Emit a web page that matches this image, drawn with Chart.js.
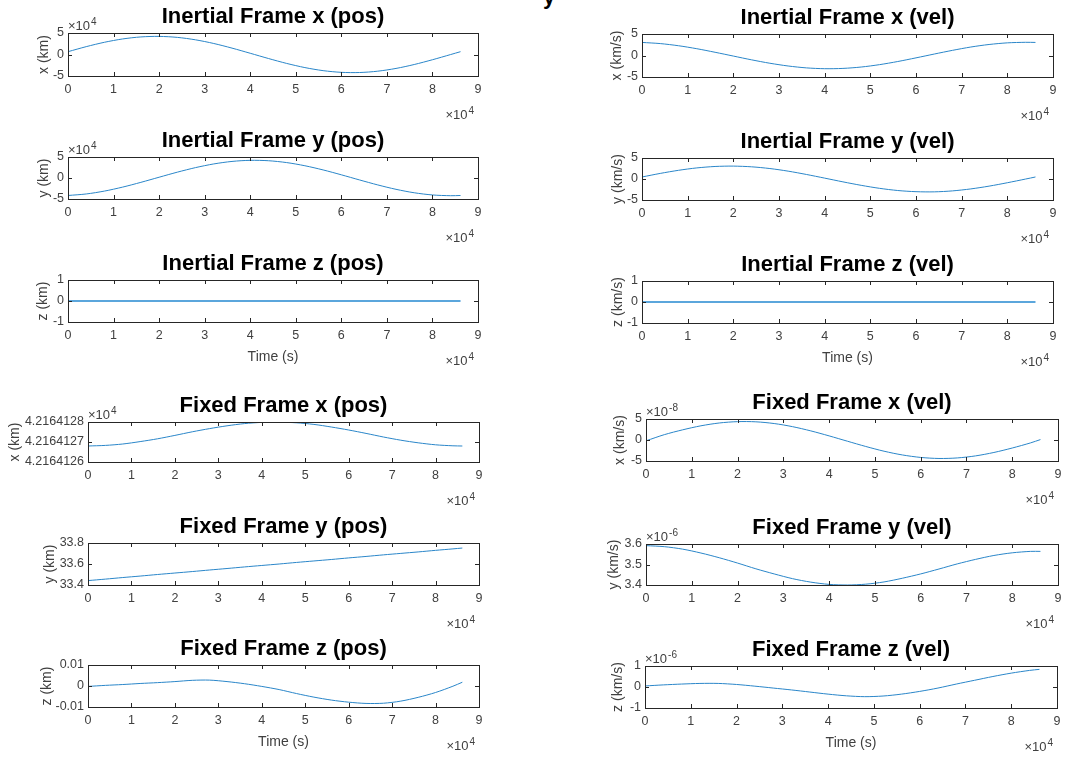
<!DOCTYPE html>
<html>
<head>
<meta charset="utf-8">
<script src="https://cdn.jsdelivr.net/npm/chart.js@4.4.0/dist/chart.umd.min.js"></script>
<style>
  body { margin: 0; background: #fff; width: 1078px; height: 757px; overflow: hidden; position: relative; }
  canvas { position: absolute; }
  #cut { position: absolute; left: 543px; top: -14px; font: bold 22px "Liberation Sans", Arial, sans-serif; color: #000; line-height: 22px; }
</style>
</head>
<body>
<div id="cut">y</div>
<script>
// time samples (s)
const timeS = [0, 4000, 8000, 12000, 16000, 20000, 24000, 28000, 32000, 36000, 40000, 44000,
               48000, 52000, 56000, 60000, 64000, 68000, 72000, 76000, 80000, 84000, 86164];

// inertial frame position (km)
const inertialXPos = [6560, 18260, 28420, 36170, 40870, 42120, 39810, 34140, 25590, 14860, 2890, -9330,
                      -20760, -30430, -37540, -41470, -41910, -38800, -32410, -23290, -12200, -80, 6560];
const inertialYPos = [-41650, -38010, -31150, -21660, -10350, 1850, 13880, 24740, 33500, 39460, 42070, 41120,
                      36700, 29180, 19200, 7600, -4650, -16510, -26960, -35150, -40360, -42160, -41650];
const inertialZPos = [0, 0, 0, 0, 0, 0, 0, 0, 0, 0, 0, 0, 0, 0, 0, 0, 0, 0, 0, 0, 0, 0, 0];

// inertial frame velocity (km/s)
const inertialXVel = [3.04, 2.77, 2.27, 1.58, 0.75, -0.13, -1.01, -1.80, -2.44, -2.88, -3.07, -3.00,
                      -2.68, -2.13, -1.40, -0.55, 0.34, 1.20, 1.97, 2.56, 2.94, 3.07, 3.04];
const inertialYVel = [0.48, 1.33, 2.07, 2.64, 2.98, 3.07, 2.90, 2.49, 1.87, 1.08, 0.21, -0.68,
                      -1.51, -2.22, -2.74, -3.02, -3.06, -2.83, -2.36, -1.70, -0.89, -0.01, 0.48];
const inertialZVel = [0, 0, 0, 0, 0, 0, 0, 0, 0, 0, 0, 0, 0, 0, 0, 0, 0, 0, 0, 0, 0, 0, 0];

// fixed frame position (km)
const fixedXPos = [42164.12680, 42164.12683, 42164.12690, 42164.12702, 42164.12716, 42164.12733, 42164.12751,
                   42164.12767, 42164.12781, 42164.12792, 42164.12798, 42164.12799, 42164.12796, 42164.12788,
                   42164.12775, 42164.12760, 42164.12743, 42164.12725, 42164.12709, 42164.12696, 42164.12686,
                   42164.12681, 42164.12680];
const fixedYPos = [33.442, 33.456, 33.471, 33.485, 33.500, 33.514, 33.528, 33.543, 33.557, 33.572, 33.586, 33.600,
                   33.615, 33.629, 33.643, 33.658, 33.672, 33.687, 33.701, 33.715, 33.730, 33.744, 33.752];
const fixedZPos = [-0.0002, 0.0003, 0.0007, 0.0012, 0.0016, 0.0021, 0.0027, 0.0028, 0.0021, 0.0011, -0.0002, -0.0017,
                   -0.0036, -0.0053, -0.0067, -0.0077, -0.0083, -0.0082, -0.0072, -0.0054, -0.0031, -0.0001, 0.0018];

// fixed frame velocity (km/s)
const fixedXVel = [-0.2e-8, 1.27e-8, 2.42e-8, 3.38e-8, 4.05e-8, 4.37e-8, 4.33e-8, 3.92e-8, 3.18e-8, 2.17e-8, 0.98e-8, -0.29e-8,
                   -1.54e-8, -2.67e-8, -3.56e-8, -4.15e-8, -4.40e-8, -4.27e-8, -3.78e-8, -2.97e-8, -1.91e-8, -0.69e-8, 0.1e-8];
const fixedYVel = [3.592e-6, 3.587e-6, 3.575e-6, 3.556e-6, 3.533e-6, 3.507e-6, 3.479e-6, 3.454e-6, 3.431e-6, 3.414e-6, 3.403e-6, 3.400e-6,
                   3.404e-6, 3.415e-6, 3.433e-6, 3.454e-6, 3.478e-6, 3.503e-6, 3.525e-6, 3.544e-6, 3.557e-6, 3.564e-6, 3.564e-6];
const fixedZVel = [0.05e-6, 0.10e-6, 0.14e-6, 0.17e-6, 0.17e-6, 0.12e-6, 0.04e-6, -0.05e-6, -0.14e-6, -0.24e-6, -0.34e-6, -0.42e-6,
                   -0.46e-6, -0.43e-6, -0.34e-6, -0.21e-6, -0.05e-6, 0.14e-6, 0.32e-6, 0.50e-6, 0.66e-6, 0.79e-6, 0.84e-6];

// axis ticks
const xTicks = [0, 10000, 20000, 30000, 40000, 50000, 60000, 70000, 80000, 90000];
const xTickLabels = ['0', '1', '2', '3', '4', '5', '6', '7', '8', '9'];
const posTicks = [-50000, 0, 50000];
const velTicks = [-5, 0, 5];
const fiveLabels = ['-5', '0', '5'];
const unitTicks = [-1, 0, 1];
const unitLabels = ['-1', '0', '1'];
const fixedXPosTicks = [42164.126, 42164.127, 42164.128];
const fixedXPosLabels = ['4.2164126', '4.2164127', '4.2164128'];
const fixedYPosTicks = [33.4, 33.6, 33.8];
const fixedYPosLabels = ['33.4', '33.6', '33.8'];
const fixedZPosTicks = [-0.01, 0, 0.01];
const fixedZPosLabels = ['-0.01', '0', '0.01'];
const fixedXVelTicks = [-5e-8, 0, 5e-8];
const fixedYVelTicks = [3.4e-6, 3.5e-6, 3.6e-6];
const fixedYVelLabels = ['3.4', '3.5', '3.6'];
const fixedZVelTicks = [-1e-6, 0, 1e-6];

const FONT = '"Liberation Sans", Arial, Helvetica, sans-serif';
const TEXT = '#404040';
const LINE = '#2a86c9';
const PAD_TOP = 40, PAD_RIGHT = 24, X_H = 48;

const panels = [
  { title: 'Inertial Frame x (pos)', ylabel: 'x (km)', values: inertialXPos, yTicks: posTicks, yLabels: fiveLabels, yExp: '4', box: [68, 33, 478, 76], yw: 32 },
  { title: 'Inertial Frame y (pos)', ylabel: 'y (km)', values: inertialYPos, yTicks: posTicks, yLabels: fiveLabels, yExp: '4', box: [68, 157, 478, 199], yw: 32 },
  { title: 'Inertial Frame z (pos)', ylabel: 'z (km)', values: inertialZPos, yTicks: unitTicks, yLabels: unitLabels, box: [68, 280, 478, 322], yw: 33, time: true, thick: true },
  { title: 'Fixed Frame x (pos)', ylabel: 'x (km)', values: fixedXPos, yTicks: fixedXPosTicks, yLabels: fixedXPosLabels, yExp: '4', box: [88, 422, 479, 462], yw: 81 },
  { title: 'Fixed Frame y (pos)', ylabel: 'y (km)', values: fixedYPos, yTicks: fixedYPosTicks, yLabels: fixedYPosLabels, box: [88, 543, 479, 585], yw: 46 },
  { title: 'Fixed Frame z (pos)', ylabel: 'z (km)', values: fixedZPos, yTicks: fixedZPosTicks, yLabels: fixedZPosLabels, box: [88, 665, 479, 707], yw: 49, time: true },
  { title: 'Inertial Frame x (vel)', ylabel: 'x (km/s)', values: inertialXVel, yTicks: velTicks, yLabels: fiveLabels, box: [642, 34, 1053, 77], yw: 33 },
  { title: 'Inertial Frame y (vel)', ylabel: 'y (km/s)', values: inertialYVel, yTicks: velTicks, yLabels: fiveLabels, box: [642, 158, 1053, 200], yw: 32 },
  { title: 'Inertial Frame z (vel)', ylabel: 'z (km/s)', values: inertialZVel, yTicks: unitTicks, yLabels: unitLabels, box: [642, 281, 1053, 323], yw: 32, time: true, thick: true },
  { title: 'Fixed Frame x (vel)', ylabel: 'x (km/s)', values: fixedXVel, yTicks: fixedXVelTicks, yLabels: fiveLabels, yExp: '-8', box: [646, 419, 1058, 461], yw: 34 },
  { title: 'Fixed Frame y (vel)', ylabel: 'y (km/s)', values: fixedYVel, yTicks: fixedYVelTicks, yLabels: fixedYVelLabels, yExp: '-6', box: [646, 544, 1058, 585], yw: 40 },
  { title: 'Fixed Frame z (vel)', ylabel: 'z (km/s)', values: fixedZVel, yTicks: fixedZVelTicks, yLabels: unitLabels, yExp: '-6', box: [645, 666, 1057, 708], yw: 35, time: true }
];

// draws "×10" with a superscript exponent
function drawExponent(ctx, x, y, exp, align) {
  ctx.font = '13px ' + FONT;
  const base = '\u00d710';
  const wBase = ctx.measureText(base).width;
  ctx.font = '10px ' + FONT;
  const wExp = ctx.measureText(exp).width;
  const x0 = align === 'right' ? x - wBase - wExp - 1 : x;
  ctx.textAlign = 'left';
  ctx.textBaseline = 'alphabetic';
  ctx.fillStyle = TEXT;
  ctx.font = '13px ' + FONT;
  ctx.fillText(base, x0, y);
  ctx.font = '10px ' + FONT;
  ctx.fillText(exp, x0 + wBase + 1, y - 5);
}

const matlabFrame = {
  id: 'matlabFrame',
  afterDatasetsDraw(chart, args, opts) {
    const { ctx, chartArea: a, scales } = chart;
    ctx.save();
    ctx.strokeStyle = '#262626';
    ctx.lineWidth = 1;
    ctx.beginPath();
    scales.x.ticks.forEach(t => {
      const px = Math.round(scales.x.getPixelForValue(t.value)) + 0.5;
      ctx.moveTo(px, a.bottom); ctx.lineTo(px, a.bottom - 4);
      ctx.moveTo(px, a.top); ctx.lineTo(px, a.top + 4);
    });
    scales.y.ticks.forEach(t => {
      const py = Math.round(scales.y.getPixelForValue(t.value)) + 0.5;
      ctx.moveTo(a.left, py); ctx.lineTo(a.left + 4, py);
      ctx.moveTo(a.right, py); ctx.lineTo(a.right - 4, py);
    });
    ctx.stroke();
    ctx.strokeRect(a.left + 0.5, a.top + 0.5, a.right - a.left, a.bottom - a.top);

    ctx.fillStyle = '#000';
    ctx.font = 'bold 22px ' + FONT;
    ctx.textAlign = 'center';
    ctx.textBaseline = 'alphabetic';
    ctx.fillText(opts.title, (a.left + a.right) / 2, a.top - 10);

    drawExponent(ctx, a.right - 4, a.bottom + 43, '4', 'right');
    if (opts.yExp) drawExponent(ctx, a.left, a.top - 3, opts.yExp, 'left');
    ctx.restore();
  }
};

panels.forEach(p => {
  const [L, T, R, B] = p.box;
  const canvas = document.createElement('canvas');
  canvas.width = p.yw + (R - L) + PAD_RIGHT;
  canvas.height = PAD_TOP + (B - T) + X_H;
  canvas.style.left = (L - p.yw) + 'px';
  canvas.style.top = (T - PAD_TOP) + 'px';
  document.body.appendChild(canvas);

  new Chart(canvas, {
    type: 'line',
    data: {
      datasets: [{
        data: p.values.map((v, i) => ({ x: timeS[i], y: v })),
        borderColor: p.thick ? '#5ba6dc' : LINE,
        borderWidth: p.thick ? 2 : 1,
        pointRadius: 0,
        tension: 0.3,
        fill: false
      }]
    },
    options: {
      responsive: false,
      animation: false,
      events: [],
      layout: { padding: { top: PAD_TOP, right: PAD_RIGHT, left: 0, bottom: 0 } },
      plugins: {
        legend: { display: false },
        tooltip: { enabled: false },
        matlabFrame: { title: p.title, yExp: p.yExp }
      },
      scales: {
        x: {
          type: 'linear',
          min: 0,
          max: 90000,
          grid: { display: false, drawTicks: false },
          border: { display: false },
          afterBuildTicks: s => { s.ticks = xTicks.map(v => ({ value: v })); },
          afterFit: s => { s.height = X_H; },
          ticks: {
            autoSkip: false, maxRotation: 0, padding: 6, color: TEXT,
            font: { family: FONT, size: 12.5 },
            callback: (v, i) => xTickLabels[i]
          },
          title: {
            display: !!p.time, text: 'Time (s)', color: TEXT,
            font: { family: FONT, size: 14 }, padding: { top: 0, bottom: 4 }
          }
        },
        y: {
          type: 'linear',
          min: p.yTicks[0],
          max: p.yTicks[p.yTicks.length - 1],
          grid: { display: false, drawTicks: false },
          border: { display: false },
          afterBuildTicks: s => { s.ticks = p.yTicks.map(v => ({ value: v })); },
          afterFit: s => { s.width = p.yw; },
          ticks: {
            autoSkip: false, padding: 4, color: TEXT,
            font: { family: FONT, size: 12.5 },
            callback: (v, i) => p.yLabels[i]
          },
          title: {
            display: true, text: p.ylabel, color: TEXT,
            font: { family: FONT, size: 14 }, padding: { top: 0, bottom: 0 }
          }
        }
      }
    },
    plugins: [matlabFrame]
  });
});
</script>
</body>
</html>
